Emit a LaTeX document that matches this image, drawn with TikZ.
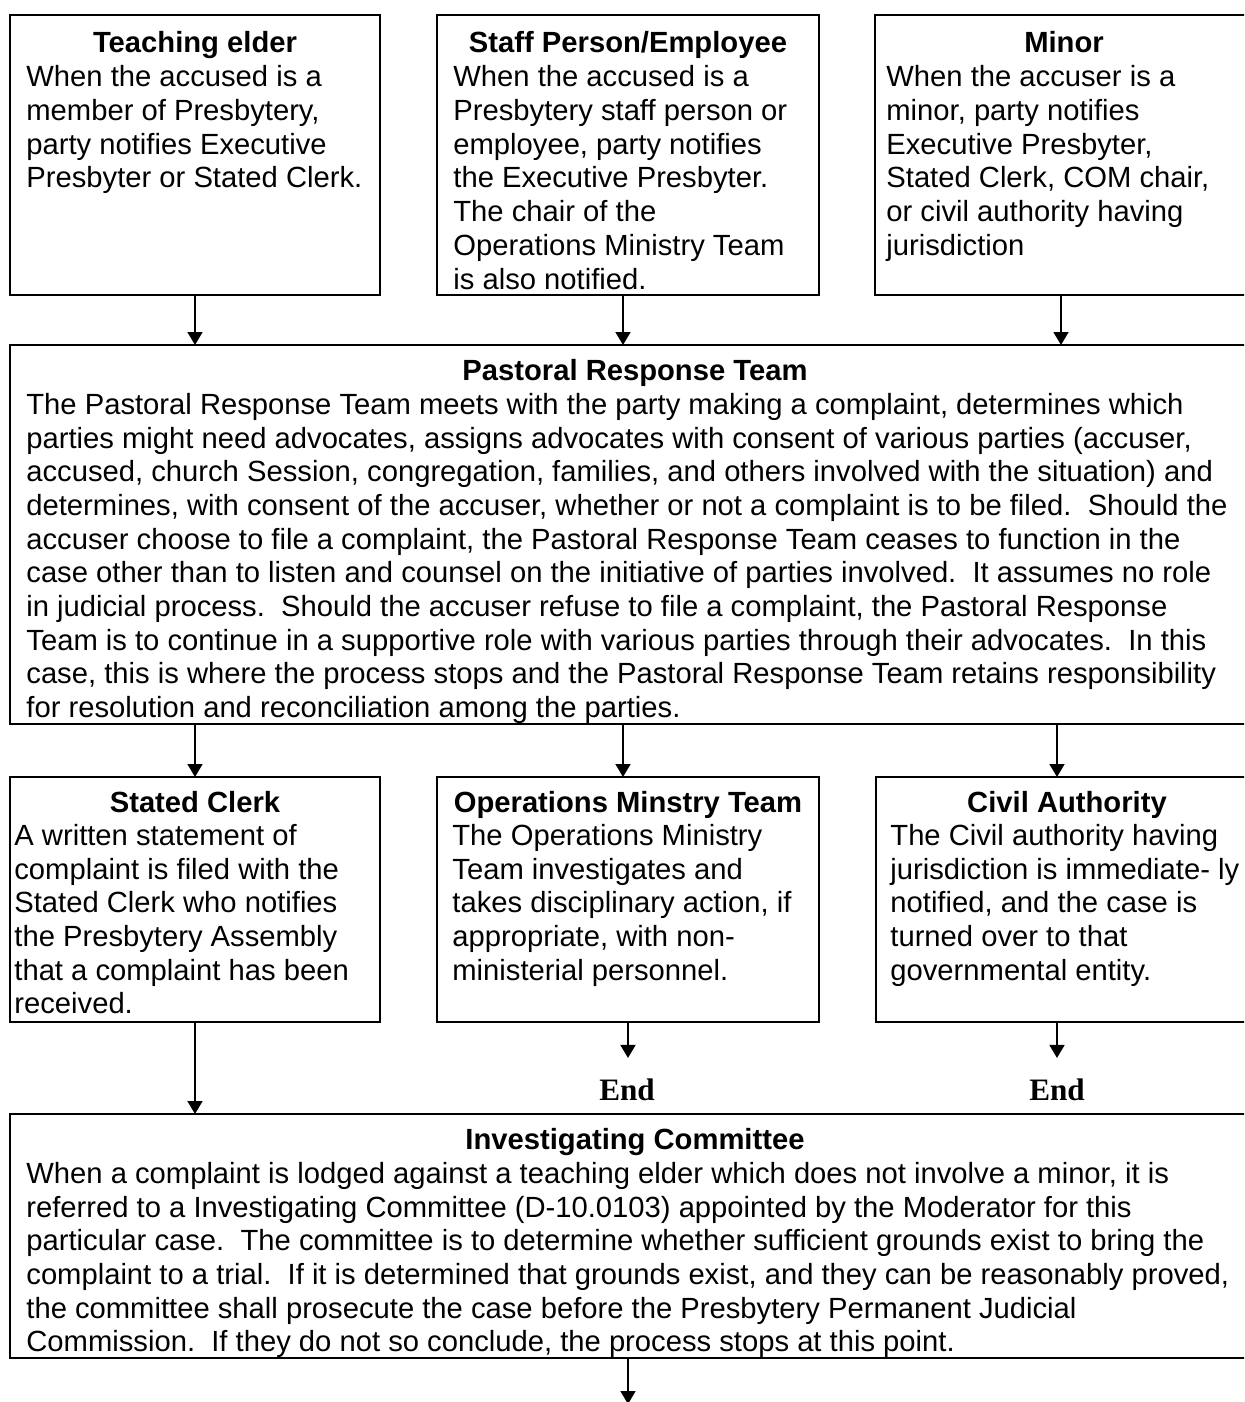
\documentclass[tikz,border=0pt]{standalone}
\usepackage{fontspec}
\setmainfont{Liberation Sans}
\newfontfamily\endfont{Liberation Serif}
\usetikzlibrary{arrows.meta, positioning}
\newcommand{\boxfont}{\fontsize{14.6}{16.85}\selectfont}
\tikzset{
	block/.style={draw, line width=1.1pt, inner sep=0pt, outer sep=0pt},
	heading/.style={font=\boxfont\bfseries, anchor=base, inner sep=0pt},
	blurb/.style={font=\boxfont, align=left, anchor=north west, inner sep=0pt},
	flow/.style={-{Triangle[width=7.5pt,length=6.5pt]}, line width=0.8pt},
	finish/.style={font=\endfont\fontsize{15.6}{18}\selectfont\bfseries, anchor=base, inner sep=0pt}
}
\begin{document}
\frenchspacing
\begin{tikzpicture}[x=0.5pt, y=-0.5pt]
	\useasboundingbox (0,0) rectangle (1244,1402);
	\clip (0,0) rectangle (1244,1402);

	\node[block, minimum width=185pt, minimum height=140pt] (teach) at (195,155) {};
	\node[heading] (teach-title) at (195,53) {Teaching elder};
	\node[blurb] (teach-text) at (26,62.9) {\strut When the accused is a\\member of Presbytery,\\party notifies Executive\\Presbyter or Stated Clerk.};

	\node[block, minimum width=191pt, minimum height=140pt] (staff) at (628,155) {};
	\node[heading] (staff-title) at (628,53) {Staff Person/Employee};
	\node[blurb] (staff-text) at (453,62.9) {\strut When the accused is a\\Presbytery staff person or\\employee, party notifies\\the Executive Presbyter.\\The chair of the\\Operations Ministry Team\\is also notified.};

	\node[block, minimum width=189pt, minimum height=140pt] (minor) at (1064,155) {};
	\node[heading] (minor-title) at (1064,53) {Minor};
	\node[blurb] (minor-text) at (886,62.9) {\strut When the accuser is a\\minor, party notifies\\Executive Presbyter,\\Stated Clerk, COM chair,\\or civil authority having\\jurisdiction};

	\node[block, minimum width=625pt, minimum height=189.5pt] (prt) at (635,534.5) {};
	\node[heading] (prt-title) at (635,380) {Pastoral Response Team};
	\node[blurb] (prt-text) at (26,390.4) {\strut The Pastoral Response Team meets with the party making a complaint, determines which\\parties might need advocates, assigns advocates with consent of various parties (accuser,\\accused, church Session, congregation, families, and others involved with the situation) and\\determines, with consent of the accuser, whether or not a complaint is to be filed.~ Should the\\accuser choose to file a complaint, the Pastoral Response Team ceases to function in the\\case other than to listen and counsel on the initiative of parties involved.~ It assumes no role\\in judicial process.~ Should the accuser refuse to file a complaint, the Pastoral Response\\Team is to continue in a supportive role with various parties through their advocates.~ In this\\case, this is where the process stops and the Pastoral Response Team retains responsibility\\for resolution and reconciliation among the parties.};

	\node[block, minimum width=185pt, minimum height=122.5pt] (clerk) at (195,899.5) {};
	\node[heading] (clerk-title) at (195,812) {Stated Clerk};
	\node[blurb] (clerk-text) at (14,821.4) {\strut A written statement of\\complaint is filed with the\\Stated Clerk who notifies\\the Presbytery Assembly\\that a complaint has been\\received.};

	\node[block, minimum width=191pt, minimum height=122.5pt] (ops) at (628,899.5) {};
	\node[heading] (ops-title) at (628,812) {Operations Minstry Team};
	\node[blurb] (ops-text) at (452,821.4) {\strut The Operations Ministry\\Team investigates and\\takes disciplinary action, if\\appropriate, with non-\\ministerial personnel.};

	\node[block, minimum width=191pt, minimum height=122.5pt] (civil) at (1067,899.5) {};
	\node[heading] (civil-title) at (1067,812) {Civil Authority};
	\node[blurb] (civil-text) at (890,821.4) {\strut The Civil authority having\\jurisdiction is immediate- ly\\notified, and the case is\\turned over to that\\governmental entity.};

	\node[finish] (end-ops) at (627,1100) {End};
	\node[finish] (end-civil) at (1057,1100) {End};

	\node[block, minimum width=625pt, minimum height=122pt] (inv) at (635,1236) {};
	\node[heading] (inv-title) at (635,1149) {Investigating Committee};
	\node[blurb] (inv-text) at (26,1159.4) {\strut When a complaint is lodged against a teaching elder which does not involve a minor, it is\\referred to a Investigating Committee (D-10.0103) appointed by the Moderator for this\\particular case.~ The committee is to determine whether sufficient grounds exist to bring the\\complaint to a trial.~ If it is determined that grounds exist, and they can be reasonably proved,\\the committee shall prosecute the case before the Presbytery Permanent Judicial\\Commission.~ If they do not so conclude, the process stops at this point.};

	\coordinate (stop) at (628,1404);

	\draw[flow] (teach.south) -- (teach.south |- prt.north);
	\draw[flow] ([xshift=-2.5pt]staff.south) -- ([xshift=-2.5pt]staff.south |- prt.north);
	\draw[flow] ([xshift=-1.5pt]minor.south) -- ([xshift=-1.5pt]minor.south |- prt.north);
	\draw[flow] (prt.south -| clerk.north) -- (clerk.north);
	\draw[flow] ([xshift=-2.5pt]ops.north |- prt.south) -- ([xshift=-2.5pt]ops.north);
	\draw[flow] ([xshift=-5pt]civil.north |- prt.south) -- ([xshift=-5pt]civil.north);
	\draw[flow] (clerk.south) -- (clerk.south |- inv.north);
	\draw[flow] (ops.south) -- ([yshift=10pt]ops.south |- end-ops.north);
	\draw[flow] ([xshift=-5pt]civil.south) -- ([yshift=10pt]end-civil.north);
	\draw[flow] (inv.south -| stop) -- (stop);
\end{tikzpicture}
\end{document}
